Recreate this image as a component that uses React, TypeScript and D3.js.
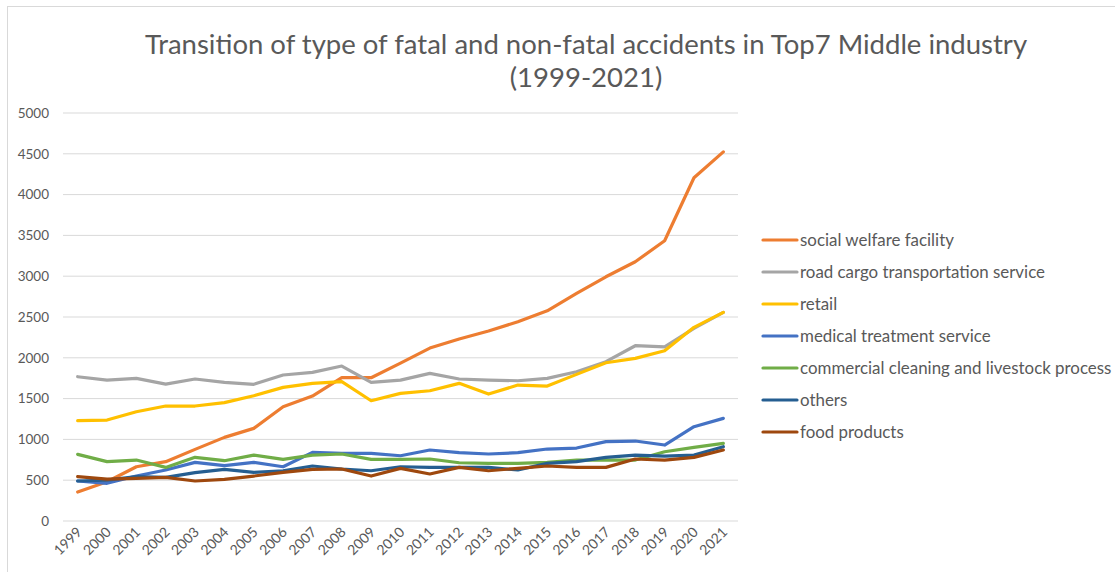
import React from "react";
import * as d3 from "d3";

const years = [
  "1999", "2000", "2001", "2002", "2003", "2004", "2005", "2006", "2007", "2008", "2009", "2010",
  "2011", "2012", "2013", "2014", "2015", "2016", "2017", "2018", "2019", "2020", "2021",
];

const socialWelfare = [355, 481, 665, 727, 878, 1025, 1135, 1400, 1531, 1756, 1756, 1935, 2119, 2230, 2328, 2442, 2576, 2789, 2993, 3177, 3434, 4206, 4524];
const roadCargo = [1768, 1727, 1748, 1678, 1740, 1699, 1675, 1789, 1821, 1899, 1699, 1727, 1809, 1740, 1727, 1719, 1748, 1829, 1952, 2148, 2135, 2360, 2557];
const retail = [1229, 1237, 1339, 1409, 1409, 1450, 1535, 1638, 1687, 1707, 1474, 1564, 1596, 1687, 1556, 1666, 1654, 1797, 1939, 1993, 2086, 2373, 2557];
const medical = [490, 462, 551, 625, 719, 678, 719, 665, 841, 829, 829, 800, 870, 837, 821, 837, 882, 894, 972, 980, 931, 1156, 1258];
const cleaning = [817, 727, 747, 657, 780, 739, 808, 755, 808, 821, 755, 755, 760, 714, 706, 706, 719, 747, 747, 747, 849, 902, 951];
const others = [490, 502, 543, 535, 592, 633, 596, 616, 674, 637, 616, 665, 657, 657, 657, 625, 706, 727, 780, 808, 796, 808, 910];
const foodProducts = [543, 514, 523, 535, 490, 511, 551, 596, 633, 637, 551, 645, 576, 657, 616, 645, 674, 657, 657, 760, 747, 780, 870];

const seriesNames = [
  "social welfare facility",
  "road cargo transportation service",
  "retail",
  "medical treatment service",
  "commercial cleaning and livestock process",
  "others",
  "food products",
];
const seriesValues = [socialWelfare, roadCargo, retail, medical, cleaning, others, foodProducts];
const seriesColors = ["#ED7D31", "#A5A5A5", "#FFC000", "#4472C4", "#70AD47", "#255E91", "#9E480E"];

const yTicks = [0, 500, 1000, 1500, 2000, 2500, 3000, 3500, 4000, 4500, 5000];

const W = 1115;
const H = 572;
const FONT = "Lato, 'Open Sans', sans-serif";
const TEXT = "#595959";

export default function App() {
  const x = d3.scaleBand().domain(years).range([63, 738]);
  const y = d3.scaleLinear().domain([0, 5000]).range([521, 113]);
  const cx = (d: string) => (x(d) as number) + x.bandwidth() / 2;

  const line = d3
    .line<number>()
    .x((_, i) => cx(years[i]))
    .y((v) => y(v));

  return (
    <div style={{ position: "absolute", left: 0, top: 0, background: "#fff" }}>
      <svg width={W} height={H} style={{ display: "block", fontFamily: FONT }}>
        <rect x={0} y={0} width={W} height={H} fill="#fff" />
        <rect x={7.5} y={6.5} width={W + 20} height={H + 20} fill="none" stroke="#d9d9d9" />

        {/* title, two lines */}
        <text x={586} y={54} textAnchor="middle" fill={TEXT} fontSize={27.5}>
          Transition of type of fatal and non-fatal accidents in Top7 Middle industry
        </text>
        <text x={586} y={87} textAnchor="middle" fill={TEXT} fontSize={27.5}>
          (1999-2021)
        </text>

        {yTicks.map((t) => (
          <g key={t}>
            <line x1={63} x2={738} y1={y(t)} y2={y(t)} stroke="#d9d9d9" strokeWidth={1} />
            <text x={49} y={y(t)} dy="0.35em" textAnchor="end" fill={TEXT} fontSize={13.5}>
              {t}
            </text>
          </g>
        ))}

        {years.map((yr) => (
          <text
            key={yr}
            transform={`translate(${cx(yr) + 5},${533}) rotate(-45)`}
            textAnchor="end"
            fill={TEXT}
            fontSize={14}
          >
            {yr}
          </text>
        ))}

        {seriesValues.map((vals, i) => (
          <path
            key={seriesNames[i]}
            d={line(vals) || ""}
            fill="none"
            stroke={seriesColors[i]}
            strokeWidth={3.2}
            strokeLinejoin="round"
            strokeLinecap="round"
          />
        ))}

        {/* legend */}
        {seriesNames.map((name, i) => {
          const ly = 240 + i * 32;
          return (
            <g key={name}>
              <line x1={763} x2={797} y1={ly} y2={ly} stroke={seriesColors[i]} strokeWidth={3.2} strokeLinecap="round" />
              <text x={800} y={ly} dy="0.35em" fill={TEXT} fontSize={16.9}>
                {name}
              </text>
            </g>
          );
        })}
      </svg>
    </div>
  );
}
